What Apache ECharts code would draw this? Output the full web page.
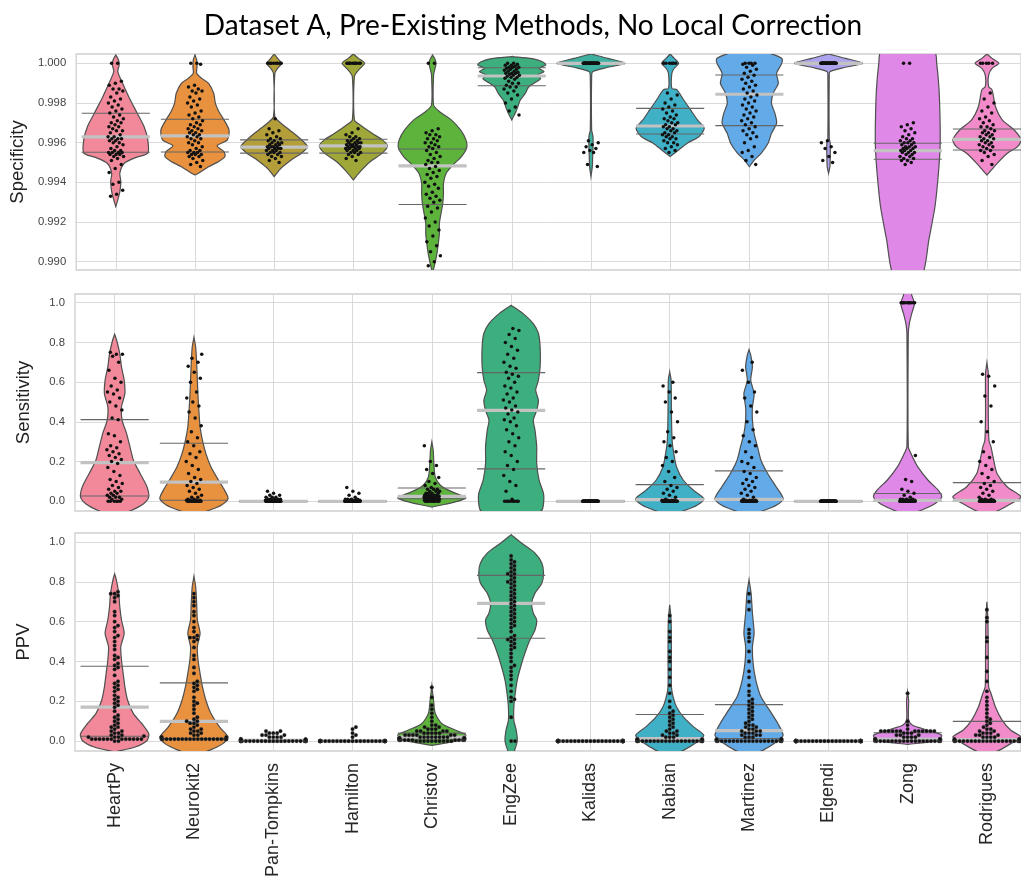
<!DOCTYPE html>
<html><head><meta charset="utf-8">
<script src="https://cdn.jsdelivr.net/npm/echarts@6/dist/echarts.min.js"></script>
<style>html,body{margin:0;padding:0;background:#fff}#c{width:1021px;height:883px}</style>
</head><body><div id="c"></div>
<script>
const METHODS = ['HeartPy','Neurokit2','Pan-Tompkins','Hamilton','Christov','EngZee','Kalidas','Nabian','Martinez','Elgendi','Zong','Rodrigues'];
const COLORS = ['#f2899a','#e8913f','#b39e3a','#9ea737','#5db33c','#3dae7e','#3db0a0','#3fb0c6','#62aae8','#aca4ee','#df88e7','#f18bca'];
const CAT_IDX = [0,1,2,3,4,5,6,7,8,9,10,11];
const SPEC_TICKS = [0.990,0.992,0.994,0.996,0.998,1.000];
const RATE_TICKS = [0,0.2,0.4,0.6,0.8,1.0];
const TITLE = 'Dataset A, Pre-Existing Methods, No Local Correction';

// quartiles [q1, median, q3]
const SPEC_QUART = [[0.99552,0.99629,0.99748],[0.99553,0.99634,0.99718],[0.99547,0.99577,0.99614],[0.99547,0.99584,0.99617],[0.99288,0.99483,0.99568],[0.99887,0.99936,0.99978],[1.0,1.0,1.0],[0.99644,0.99684,0.99773],[0.99686,0.99844,0.99941],[1.0,1.0,1.0],[0.99516,0.9956,0.99597],[0.99563,0.99617,0.99669]];
const SENS_QUART = [[0.027,0.195,0.411],[0.005,0.096,0.292],[0,0,0],[0,0,0],[0.013,0.025,0.067],[0.163,0.458,0.648],[0,0,0],[0.005,0.008,0.084],[0.005,0.01,0.153],[0,0,0],[0,0.005,0.039],[0,0.005,0.094]];
const PPV_QUART = [[0.024,0.17,0.376],[0.012,0.099,0.292],[0,0.003,0.003],[0,0,0],[0.01,0.02,0.04],[0.516,0.692,0.832],[0,0,0],[0.003,0.012,0.133],[0.012,0.052,0.183],[0,0,0],[0.005,0.01,0.042],[0.003,0.007,0.099]];

// violin outlines: [value, relative half width]
const FLAT = [[0.004,0],[0,1],[-0.004,0]];
const SPEC_PROFILES = [
 [[1.00042,0],[1.00017,.08],[0.99992,.10],[0.99958,.06],[0.99899,.20],[0.99832,.38],[0.99748,.63],[0.99681,.83],[0.99614,.94],[0.99547,.94],[0.99526,.60],[0.99496,.25],[0.99446,.12],[0.99404,.15],[0.99353,.12],[0.99312,.06],[0.99278,0]],
 [[1.00042,0],[1.00017,.05],[0.99983,.06],[0.9995,.05],[0.99924,.2],[0.99899,.4],[0.99849,.55],[0.99798,.6],[0.99757,.7],[0.99715,.85],[0.99664,1.0],[0.99614,.95],[0.99584,.65],[0.99555,.85],[0.9953,.88],[0.99505,.7],[0.99479,.4],[0.99446,.1],[0.99437,0]],
 [[1.00047,0],[1.00025,.1],[1.0,.22],[0.99975,.1],[0.9995,.02],[0.99731,.02],[0.99698,.2],[0.99664,.45],[0.99622,.75],[0.9958,.98],[0.99547,.8],[0.99513,.5],[0.99471,.2],[0.99429,0]],
 [[1.00047,0],[1.00025,.15],[1.0,.33],[0.99966,.15],[0.99933,.03],[0.99715,.03],[0.99689,.2],[0.99647,.55],[0.99614,.85],[0.99584,1.0],[0.99547,.85],[0.99505,.5],[0.99454,.2],[0.99412,0]],
 [[1.00042,0],[1.00017,.08],[0.99997,.10],[0.99966,.06],[0.99941,.03],[0.9979,.03],[0.99757,.2],[0.99715,.55],[0.99664,.82],[0.99614,.98],[0.99572,1.0],[0.9953,.85],[0.99488,.6],[0.99446,.4],[0.99395,.32],[0.99345,.32],[0.99295,.3],[0.99244,.25],[0.99194,.2],[0.99144,.2],[0.99093,.17],[0.99043,.13],[0.98992,.07],[0.98942,0]],
 [[1.00034,0],[1.00024,.6],[1.00008,.9],[0.99992,1.0],[0.99975,.8],[0.99958,.95],[0.99941,.75],[0.99924,.85],[0.99904,.7],[0.99882,.5],[0.99849,.4],[0.99815,.25],[0.99782,.18],[0.99748,.1],[0.99715,0]],
 [[1.00047,0],[1.00025,.5],[1.0,1.0],[0.9998,.5],[0.99958,.05],[0.99933,.02],[0.99664,.02],[0.99631,.06],[0.9958,.06],[0.9953,.05],[0.99479,.04],[0.99429,0]],
 [[1.00047,0],[1.00025,.12],[1.0,.25],[0.99975,.12],[0.9995,.05],[0.99874,.05],[0.99866,.2],[0.99815,.4],[0.99765,.6],[0.99715,.8],[0.99673,1.0],[0.99631,.85],[0.99597,.5],[0.99563,.25],[0.9953,0]],
 [[1.00054,.5],[1.00025,.95],[1.0,.95],[0.9995,.8],[0.99899,.85],[0.99849,.7],[0.99798,.65],[0.99748,.75],[0.99698,.8],[0.99647,.65],[0.99597,.55],[0.99547,.35],[0.99513,.15],[0.99479,0]],
 [[1.00047,0],[1.00025,.5],[1.0,1.0],[0.9998,.5],[0.99958,.04],[0.99933,.02],[0.99622,.02],[0.99597,.05],[0.9953,.05],[0.99479,.04],[0.99446,0]],
 [[1.00059,.78],[1.0,.85],[0.99866,.92],[0.99698,.95],[0.9958,.95],[0.99446,.9],[0.99278,.8],[0.9911,.62],[0.98942,.45],[0.9885,0]],
 [[1.00047,0],[1.00025,.15],[1.0,.35],[0.99975,.15],[0.99941,.05],[0.99882,.05],[0.99866,.15],[0.99782,.25],[0.99715,.45],[0.99664,.8],[0.99614,1.0],[0.9958,.9],[0.99547,.6],[0.99496,.3],[0.99446,.05],[0.99437,0]]
];
const SENS_PROFILES = [
 [[0.841,0],[0.811,.06],[0.744,.15],[0.677,.2],[0.61,.28],[0.542,.3],[0.475,.2],[0.408,.22],[0.341,.35],[0.274,.45],[0.207,.55],[0.139,.75],[0.072,.95],[0.022,1.0],[-0.012,.85],[-0.045,.5],[-0.08,0]],
 [[0.825,0],[0.778,.05],[0.694,.08],[0.61,.1],[0.526,.12],[0.442,.15],[0.374,.18],[0.307,.25],[0.24,.35],[0.173,.5],[0.106,.72],[0.055,.9],[0.013,1.0],[-0.02,.8],[-0.045,.45],[-0.07,0]],
 FLAT, FLAT,
 [[0.299,0],[0.257,.04],[0.19,.06],[0.123,.1],[0.081,.25],[0.055,.5],[0.03,.85],[0.018,1.0],[0.002,.8],[-0.015,.4],[-0.029,0]],
 [[0.987,0],[0.945,.35],[0.895,.65],[0.845,.8],[0.778,.85],[0.677,.85],[0.61,.8],[0.559,.72],[0.509,.8],[0.458,.75],[0.408,.65],[0.358,.7],[0.274,.75],[0.19,.75],[0.106,.82],[0.039,.95],[-0.012,.95],[-0.045,.9],[-0.079,.6],[-0.113,0]],
 FLAT,
 [[0.652,0],[0.61,.04],[0.442,.05],[0.307,.07],[0.24,.12],[0.173,.2],[0.106,.4],[0.055,.7],[0.013,1.0],[-0.02,.8],[-0.045,.45],[-0.07,0]],
 [[0.764,0],[0.736,.05],[0.677,.1],[0.61,.05],[0.542,.15],[0.475,.1],[0.408,.1],[0.341,.15],[0.274,.25],[0.207,.35],[0.139,.55],[0.072,.8],[0.013,1.0],[-0.02,.8],[-0.045,.45],[-0.07,0]],
 FLAT,
 [[1.055,.1],[1.038,.12],[0.996,.2],[0.945,.12],[0.895,.05],[0.845,.02],[0.274,.02],[0.24,.1],[0.173,.3],[0.106,.6],[0.055,.9],[0.022,1.0],[-0.012,.8],[-0.045,.4],[-0.07,0]],
 [[0.697,0],[0.643,.04],[0.442,.04],[0.307,.06],[0.274,.12],[0.207,.2],[0.139,.3],[0.072,.6],[0.022,1.0],[-0.012,.7],[-0.045,.35],[-0.07,0]]
];
const PPV_PROFILES = [
 [[0.84,0],[0.81,.05],[0.743,.12],[0.675,.15],[0.608,.2],[0.541,.28],[0.474,.18],[0.407,.2],[0.339,.25],[0.272,.3],[0.205,.38],[0.138,.55],[0.087,.8],[0.037,1.0],[0.003,.95],[-0.03,.6],[-0.055,0]],
 [[0.827,0],[0.776,.05],[0.692,.08],[0.608,.1],[0.541,.18],[0.474,.1],[0.407,.12],[0.339,.18],[0.272,.25],[0.205,.35],[0.138,.5],[0.071,.75],[0.02,1.0],[-0.013,.85],[-0.047,.45],[-0.072,0]],
 FLAT, FLAT,
 [[0.277,0],[0.205,.05],[0.138,.1],[0.087,.3],[0.054,.7],[0.029,1.0],[0.003,.8],[-0.022,0]],
 [[1.037,0],[0.995,.3],[0.944,.7],[0.894,.9],[0.843,.95],[0.793,.9],[0.743,.7],[0.692,.6],[0.642,.65],[0.608,.75],[0.558,.7],[0.507,.55],[0.44,.4],[0.373,.28],[0.306,.18],[0.239,.12],[0.171,.08],[0.104,.08],[0.054,.15],[0.003,.18],[-0.047,.1],[-0.081,0]],
 FLAT,
 [[0.684,0],[0.608,.04],[0.44,.05],[0.272,.05],[0.222,.1],[0.171,.2],[0.121,.4],[0.071,.7],[0.029,1.0],[-0.005,.8],[-0.047,.4],[-0.072,0]],
 [[0.81,0],[0.743,.06],[0.642,.1],[0.541,.15],[0.474,.1],[0.39,.12],[0.306,.2],[0.222,.35],[0.155,.6],[0.087,.85],[0.029,1.0],[-0.005,.8],[-0.047,.4],[-0.072,0]],
 FLAT,
 [[0.247,0],[0.205,.03],[0.104,.03],[0.079,.15],[0.054,.6],[0.029,1.0],[0.003,.9],[-0.017,0]],
 [[0.70,0],[0.608,.03],[0.44,.04],[0.272,.05],[0.239,.12],[0.171,.25],[0.104,.45],[0.054,.7],[0.02,1.0],[-0.013,.7],[-0.047,.35],[-0.072,0]]
];

// individual records; [value, n] = n records with that value
const SPEC_POINTS = [
 [[1.0,2],0.9991,0.999,0.9989,0.9987,0.9987,0.9986,0.9985,0.9983,0.9982,0.9981,0.998,0.9979,0.9978,0.9977,0.9976,0.9975,0.9974,0.9973,0.9972,0.9971,0.997,0.997,0.9969,0.9968,0.9968,0.9967,0.9966,0.9966,0.9965,0.9964,0.9963,0.9963,0.9962,0.9962,0.9962,0.9961,0.9961,0.996,0.996,0.9959,0.9958,0.9957,0.9956,0.9956,[0.9955,4],[0.9954,3],0.9953,0.9953,0.9952,0.9951,0.9949,0.9947,0.9945,0.994,0.9939,0.9936,0.9934,0.9933],
 [1.0,1.0,0.99995,0.9989,0.9988,0.9987,0.9986,0.9986,0.9985,0.9983,0.9982,0.9981,0.998,0.9979,0.9978,0.9976,0.9975,0.9974,0.9973,0.9972,0.9971,0.997,0.9969,0.9969,0.9968,0.9967,0.9967,0.9966,0.9966,0.9965,0.9965,0.9964,0.9964,0.9963,0.9963,0.9962,0.9962,0.9961,0.996,0.996,0.9959,0.9958,0.9957,0.9956,0.9956,0.9955,0.9955,0.9955,0.9954,0.9954,0.9954,0.9953,0.9953,0.9952,0.9951,0.995,0.9949,0.9948],
 [[1.0,8],0.9972,0.9967,0.9966,0.9965,0.9964,0.9963,[0.9962,2],[0.9961,2],[0.996,3],[0.9959,3],[0.9958,4],[0.9957,4],[0.9956,3],[0.9955,3],[0.9954,2],[0.9953,2],0.9952,0.9951,0.995],
 [[1.0,10],0.9967,0.9965,0.9964,[0.9963,2],[0.9962,2],[0.9961,3],[0.996,4],[0.9959,4],[0.9958,5],[0.9957,4],[0.9956,3],[0.9955,3],[0.9954,2],0.9953,0.9952,0.9951],
 [1.0,1.0,0.9967,0.9966,0.9965,0.9964,0.9964,0.9963,0.9962,0.9962,0.9961,0.996,0.996,0.9959,0.9958,0.9958,0.9957,0.9956,0.9955,0.9954,0.9953,0.9952,0.9951,0.995,0.995,0.9949,0.9948,0.9947,0.9946,0.9945,0.9944,0.9943,0.9942,0.994,0.9939,0.9938,0.9937,0.9935,0.9934,0.9933,0.9932,0.9931,0.993,0.9928,0.9927,0.9925,0.9922,0.992,0.9918,0.9916,0.9913,0.991,0.9908,0.9905,0.9903,0.99,0.9898],
 [1.0,1.0,0.99995,0.9999,0.9999,0.99985,0.9998,0.9998,0.9998,0.99975,0.9997,0.9997,0.99965,0.9996,0.9996,0.99955,0.9995,0.9995,0.9995,0.99945,0.9994,0.9994,0.99935,0.9993,0.9993,0.99925,0.9992,0.9991,0.999,0.999,0.9989,0.9988,0.9988,0.9987,0.9986,0.9985,0.9984,0.9982,0.998,0.9978,0.9976,0.9974],
 [[1.0,40],0.9961,0.996,0.9959,0.9958,0.9957,0.9956,0.9955,0.9955,0.9949,0.9948],
 [[1.0,6],0.9985,0.9984,0.9982,0.998,0.9979,0.9978,0.9977,0.9976,0.9975,0.9974,0.9973,0.9972,0.9972,0.9971,0.997,0.997,0.9969,0.9969,0.9968,0.9968,0.9967,0.9967,0.9966,0.9966,0.9965,0.9965,0.9964,0.9964,0.9963,0.9963,0.9962,0.9962,0.9961,0.996,0.996,0.9959,0.9958,0.9957,0.9956,0.9955],
 [[1.0,4],0.99995,0.9999,0.9998,0.9997,0.9996,0.9995,0.9994,0.9993,0.9992,0.9991,0.999,0.9989,0.9988,0.9987,0.9986,0.9985,0.9984,0.9983,0.9982,0.9981,0.998,0.9979,0.9978,0.9977,0.9976,0.9975,0.9974,0.9973,0.9972,0.9971,0.997,0.9969,0.9968,0.9967,0.9966,0.9965,0.9964,0.9963,0.9962,0.996,0.9958,0.9956,0.9955,0.9953,0.9951,0.9949],
 [[1.0,45],0.9961,0.996,0.9958,0.9957,0.9955,0.9953,0.9951,0.995],
 [1.0,1.0,0.997,0.9969,0.9968,0.9967,0.9966,0.9965,0.9964,0.9963,0.9962,0.9962,0.9961,0.9961,0.996,0.996,0.996,0.9959,0.9959,0.9958,0.9958,0.9958,0.9957,0.9957,0.9957,0.9956,0.9956,0.9956,0.9955,0.9955,0.9955,0.9954,0.9954,0.9953,0.9953,0.9952,0.9952,0.9951,0.9951,0.995,0.9949],
 [[1.0,5],0.9985,0.9982,0.998,0.9978,0.9976,0.9975,0.9973,0.9972,0.9971,0.997,0.9969,0.9968,0.9968,0.9967,0.9966,0.9966,0.9965,0.9965,0.9964,0.9964,0.9963,0.9963,0.9962,0.9962,0.9961,0.9961,0.996,0.996,0.9959,0.9959,0.9958,0.9958,0.9957,0.9956,0.9956,0.9955,0.9954,0.9953,0.9951,0.9949]
];
const SENS_POINTS = [
 [[0,6],0.01,0.01,0.02,0.02,0.02,0.03,0.03,0.04,0.04,0.05,0.05,0.06,0.07,0.08,0.09,0.1,0.11,0.13,0.15,0.17,0.19,0.2,0.21,0.22,0.23,0.24,0.25,0.26,0.27,0.28,0.3,0.33,0.34,0.41,0.42,0.46,0.48,0.5,0.52,0.54,0.55,0.56,0.58,0.6,0.62,0.66,0.7,0.73,0.74,0.74,0.75],
 [[0,12],[0.005,4],0.01,0.01,0.02,0.02,0.03,0.04,0.05,0.06,0.07,0.08,0.09,0.1,0.11,0.12,0.14,0.16,0.18,0.2,0.22,0.24,0.25,0.28,0.3,0.32,0.35,0.38,0.42,0.45,0.48,0.5,0.52,0.55,0.6,0.62,0.65,0.68,0.7,0.72,0.74],
 [[0,30],[0.005,10],[0.01,5],[0.02,3],0.03,0.03,0.04,0.05],
 [[0,35],[0.005,8],[0.01,4],0.02,0.03,0.04,0.05,0.07],
 [[0,10],[0.005,8],[0.01,8],[0.015,6],[0.02,6],[0.025,5],[0.03,5],[0.04,4],[0.05,3],[0.06,3],0.07,0.08,0.09,0.1,0.12,0.14,0.16,0.18,0.2,0.28],
 [[0,8],0.01,0.05,0.08,0.1,0.13,0.16,0.18,0.2,0.23,0.25,0.28,0.3,0.32,0.34,0.36,0.38,0.4,0.41,0.42,0.44,0.45,0.46,0.47,0.48,0.5,0.51,0.52,0.54,0.55,0.57,0.58,0.6,0.62,0.63,0.64,0.65,0.67,0.68,0.7,0.72,0.74,0.76,0.78,0.8,0.82,0.84,0.86,0.87],
 [[0,60]],
 [[0,30],[0.005,5],0.01,0.02,0.03,0.04,0.05,0.06,0.07,0.08,0.1,0.12,0.15,0.18,0.2,0.22,0.25,0.28,0.3,0.32,0.35,0.4,0.45,0.5,0.52,0.55,0.58,0.6],
 [[0,25],[0.005,5],0.01,0.02,0.03,0.04,0.05,0.06,0.07,0.08,0.09,0.1,0.11,0.12,0.14,0.15,0.17,0.19,0.2,0.22,0.25,0.28,0.3,0.33,0.36,0.4,0.45,0.48,0.52,0.55,0.6,0.66,0.7],
 [[0,60]],
 [[1.0,10],[0,25],[0.005,8],[0.01,4],0.02,0.03,0.04,0.05,0.06,0.1,0.11,0.23],
 [[0,25],[0.005,5],[0.01,3],0.02,0.03,0.04,0.05,0.06,0.07,0.08,0.09,0.1,0.12,0.14,0.16,0.18,0.2,0.22,0.25,0.3,0.35,0.4,0.48,0.53,0.58,0.63,0.64]
];
const PPV_POINTS = [
 [[0,2],[0.01,12],[0.02,3],0.025,0.03,0.03,0.04,0.04,0.05,0.05,0.06,0.07,0.07,0.08,0.09,0.1,0.11,0.12,0.13,0.15,0.17,0.18,0.19,0.2,0.21,0.22,0.23,0.25,0.26,0.27,0.28,0.29,0.3,0.33,0.36,0.37,0.38,0.39,0.41,0.42,0.43,0.46,0.48,0.5,0.52,0.53,0.55,0.57,0.58,0.6,0.63,0.65,0.7,0.72,0.73,0.74,0.74,0.75],
 [[0.01,20],[0.02,3],0.03,0.03,0.04,0.04,0.05,0.05,0.06,0.06,0.07,0.08,0.09,0.09,0.1,0.1,0.11,0.12,0.14,0.16,0.18,0.19,0.2,0.22,0.25,0.26,0.27,0.28,0.29,0.3,0.34,0.37,0.41,0.43,0.47,0.5,0.51,0.52,0.52,0.53,0.55,0.57,0.6,0.63,0.65,0.68,0.7,0.72,0.74],
 [[0,30],[0.005,10],[0.01,3],[0.02,4],[0.03,3],[0.04,3],0.05,0.05],
 [[0,40],0.02,0.03,0.04,0.06,0.07],
 [[0,10],[0.005,10],[0.01,10],[0.015,8],[0.02,8],[0.03,6],[0.04,5],[0.05,4],[0.06,3],0.07,0.07,0.08,0.08,0.1,0.12,0.14,0.16,0.18,0.22,0.27],
 [0,0,0.12,0.2,0.21,0.22,0.25,0.28,0.31,0.33,0.35,0.37,0.38,0.4,0.42,0.44,0.46,0.47,0.48,0.49,0.5,0.51,0.51,0.52,0.53,0.55,0.57,0.58,0.59,0.6,0.61,0.62,0.63,0.64,0.65,0.66,0.67,0.68,0.69,0.7,0.71,0.72,0.73,0.74,0.75,0.76,0.77,0.78,0.79,0.8,0.8,0.81,0.82,0.83,0.84,0.84,0.85,0.86,0.87,0.88,0.89,0.9,0.91,0.93],
 [[0,60]],
 [[0,25],[0.005,5],[0.01,3],[0.02,3],0.03,0.03,0.04,0.04,0.05,0.05,0.06,0.07,0.08,0.09,0.1,0.11,0.12,0.13,0.14,0.15,0.17,0.2,0.24,0.28,0.32,0.36,0.4,0.42,0.45,0.5,0.52,0.55,0.6,0.63],
 [[0,20],[0.005,5],[0.01,3],[0.02,3],[0.03,3],[0.04,3],[0.05,3],0.06,0.06,0.07,0.07,0.08,0.08,0.09,0.1,0.11,0.12,0.13,0.14,0.15,0.16,0.17,0.18,0.19,0.2,0.21,0.23,0.25,0.28,0.32,0.35,0.4,0.45,0.5,0.52,0.54,0.56,0.66,0.7,0.74],
 [[0,60]],
 [[0,20],[0.005,10],[0.01,6],[0.02,4],[0.03,3],[0.04,3],[0.05,12],0.06,0.08,0.1,0.24],
 [[0,22],[0.005,5],[0.01,3],[0.02,4],[0.03,3],[0.04,3],0.05,0.05,0.06,0.06,0.07,0.08,0.09,0.1,0.11,0.12,0.14,0.16,0.18,0.2,0.22,0.25,0.3,0.35,0.42,0.5,0.52,0.6,0.62,0.66]
];

function expand(list){ const out=[]; list.forEach(e=>{ if(Array.isArray(e)){ for(let k=0;k<e[1];k++) out.push(e[0]); } else out.push(e); }); return out; }

function swarm(ys, d, limit){
  const placed=[]; const res=[];
  ys.forEach(y=>{
    const near = placed.filter(p=>Math.abs(p.y-y)<d);
    const cands=[0];
    near.forEach(p=>{ const dx=Math.sqrt(d*d-(p.y-y)*(p.y-y)); cands.push(p.x+dx, p.x-dx); });
    cands.sort((a,b)=>Math.abs(a)-Math.abs(b));
    let x=cands[cands.length-1];
    for(const c of cands){ if(near.every(p=>(p.x-c)*(p.x-c)+(p.y-y)*(p.y-y) >= d*d-0.01)){ x=c; break; } }
    placed.push({x:x,y:y}); res.push({x:Math.max(-limit,Math.min(limit,x)), y:y});
  });
  return res;
}

function makeRender(profiles, quarts, points, mode){
  return function(params, api){
    const i = params.dataIndex;
    const band = api.size([1,0])[0];
    const maxHalf = band*0.43;
    const cx = api.coord([i,0])[0];
    const ch = [];
    const prof = profiles[i];
    const right = prof.map(p=>[cx+p[1]*maxHalf, api.coord([i,p[0]])[1]]);
    const left = prof.slice().reverse().map(p=>[cx-p[1]*maxHalf, api.coord([i,p[0]])[1]]);
    ch.push({type:'polygon', shape:{points:right.concat(left), smooth:0.25}, style:{fill:COLORS[i], stroke:'#4f4f4f', lineWidth:1.2}});
    const q = quarts[i];
    [q[0],q[2]].forEach(v=>{ const y=api.coord([i,v])[1]; ch.push({type:'line', shape:{x1:cx-maxHalf,y1:y,x2:cx+maxHalf,y2:y}, style:{stroke:'#666', lineWidth:1.1}}); });
    const ym = api.coord([i,q[1]])[1];
    ch.push({type:'line', shape:{x1:cx-maxHalf,y1:ym,x2:cx+maxHalf,y2:ym}, style:{stroke:'#c2c2c2', lineWidth:3.2}});
    const vals = expand(points[i]);
    if(mode==='strip'){
      const jit = band*0.1;
      vals.forEach((v,k)=>{ const y=api.coord([i,v])[1]; const off=(((k+1)*0.6180339887)%1-0.5)*2*jit;
        ch.push({type:'circle', shape:{cx:cx+off, cy:y, r:1.75}, style:{fill:'#111'}}); });
    } else {
      const ys = vals.map(v=>api.coord([i,v])[1]).sort((a,b)=>b-a);
      swarm(ys, 3.9, maxHalf*0.95).forEach(p=>{ ch.push({type:'circle', shape:{cx:cx+p.x, cy:p.y, r:1.85}, style:{fill:'#111', stroke:'#555', lineWidth:0.3}}); });
    }
    return {type:'group', children:ch};
  };
}

const FONT = 'Liberation Sans';
function xAx(k){
  return {gridIndex:k, type:'value', min:-0.5, max:11.43,
    axisLine:{show:false}, axisTick:{show:false, customValues:CAT_IDX},
    splitLine:{show:true, lineStyle:{color:'#dadada', width:1}},
    axisLabel:{show:k===2, customValues:CAT_IDX, formatter:v=>METHODS[Math.round(v)], rotate:90, fontSize:18, color:'#262626', fontFamily:FONT, margin:12}};
}
function yAx(k, name, min, max, ticks, dec){
  return {gridIndex:k, type:'value', min:min, max:max,
    axisLine:{show:false}, axisTick:{show:false, customValues:ticks},
    splitLine:{show:true, lineStyle:{color:'#dadada', width:1}},
    axisLabel:{customValues:ticks, formatter:v=>v.toFixed(dec), color:'#444', fontSize:11.3, fontFamily:FONT, margin:10},
    name:name, nameLocation:'middle', nameGap:42, nameTextStyle:{fontSize:18.5, color:'#222', fontFamily:FONT}};
}
function ser(k, profiles, quarts, points, mode){
  return {type:'custom', xAxisIndex:k, yAxisIndex:k, clip:true, silent:true,
    data:CAT_IDX.map(i=>[i, quarts[i][1]]), encode:{x:0,y:1},
    renderItem:makeRender(profiles, quarts, points, mode)};
}
const gridBase = {show:true, left:75, right:-2, borderColor:'#cfcfcf', borderWidth:1.3, backgroundColor:'transparent'};
const chart = echarts.init(document.getElementById('c'), null, {renderer:'canvas'});
chart.setOption({
  animation:false,
  backgroundColor:'#fff',
  title:{text:TITLE, left:528, top:7, textAlign:'center', textStyle:{fontSize:28, fontWeight:'normal', color:'#000', fontFamily:'Lato'}},
  grid:[Object.assign({top:54, height:216}, gridBase), Object.assign({top:294, height:217}, gridBase), Object.assign({top:533, height:218}, gridBase)],
  xAxis:[xAx(0), xAx(1), xAx(2)],
  yAxis:[yAx(0,'Specificity',0.98958,1.00047,SPEC_TICKS,3), yAx(1,'Sensitivity',-0.0489,1.0438,RATE_TICKS,1), yAx(2,'PPV',-0.050,1.045,RATE_TICKS,1)],
  series:[ser(0,SPEC_PROFILES,SPEC_QUART,SPEC_POINTS,'strip'), ser(1,SENS_PROFILES,SENS_QUART,SENS_POINTS,'strip'), ser(2,PPV_PROFILES,PPV_QUART,PPV_POINTS,'swarm')]
});
</script></body></html>
